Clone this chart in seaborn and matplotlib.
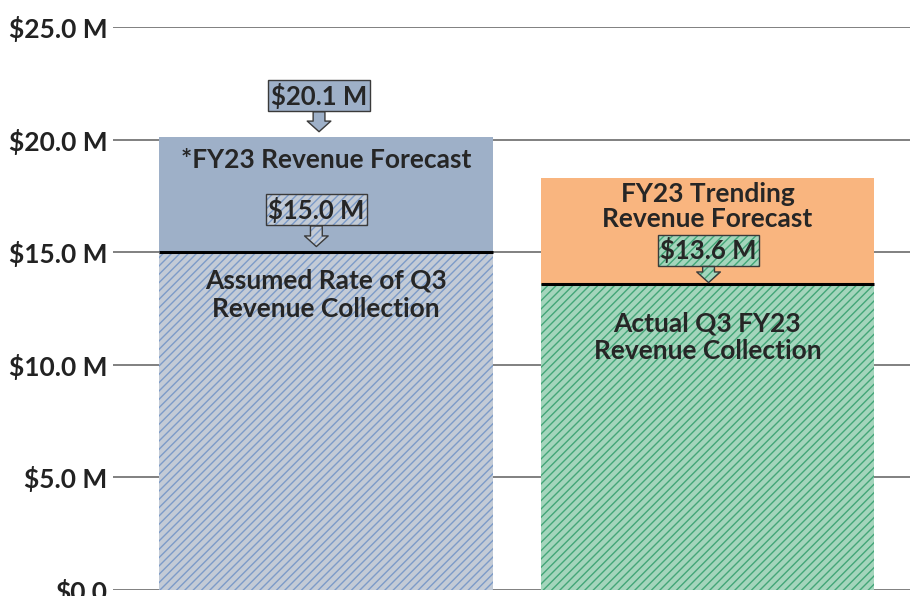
import matplotlib
matplotlib.use('Agg')
import matplotlib.pyplot as plt
import seaborn as sns
import pandas as pd

# data ($ millions)
categories = ['FY23 Forecast', 'FY23 Trending']
total_values = [20.1, 18.3]
base_values = [15.0, 13.6]
top_labels = ['*FY23 Revenue Forecast', 'FY23 Trending\nRevenue Forecast']
base_labels = ['Assumed Rate of Q3\nRevenue Collection', 'Actual Q3 FY23\nRevenue Collection']
yticks = [0, 5, 10, 15, 20, 25]
ytick_labels = ['$0.0', '$5.0 M', '$10.0 M', '$15.0 M', '$20.0 M', '$25.0 M']

top_colors = ['#9eb0c8', '#f9b57f']
base_colors = ['#c3cbd6', '#a4d5bc']
hatch_colors = ['#7c9bc8', '#43a678']

sns.set_style('white')
plt.rcParams['font.family'] = ['Lato', 'DejaVu Sans']
plt.rcParams['hatch.linewidth'] = 1.0

fig = plt.figure(figsize=(9.1, 5.96), dpi=100)
ax = fig.add_axes([0.1242, 0.0101, 0.8758, 0.9446])

df = pd.DataFrame({'cat': categories, 'total': total_values, 'base': base_values})
bar_w = 0.875

sns.barplot(data=df, x='cat', y='total', hue='cat', palette=top_colors, width=bar_w,
            saturation=1, legend=False, ax=ax, linewidth=0, zorder=2)
sns.barplot(data=df, x='cat', y='base', hue='cat', palette=base_colors, width=bar_w,
            saturation=1, legend=False, ax=ax, linewidth=0, zorder=3)

for p, hc in zip(ax.patches[2:], hatch_colors):
    p.set_hatch('////')
    p.set_edgecolor(hc)
    p.set_linewidth(0)

# black line on top of the collected part
for i, b in enumerate(base_values):
    ax.hlines(b, i - bar_w / 2, i + bar_w / 2, color='black', lw=2.2, zorder=4)

ax.set_xlim(-0.558, 1.531)
ax.set_ylim(0, 25)
ax.set_yticks(yticks)
ax.set_yticklabels(ytick_labels, fontsize=19, fontweight='bold', color='#222222')
ax.tick_params(axis='y', length=0, pad=4)
ax.set_xticks([])
ax.set_xlabel('')
ax.set_ylabel('')
ax.yaxis.grid(True, color='#808080', lw=1.4)
ax.set_axisbelow(True)
sns.despine(ax=ax, left=True, bottom=True)

txt = dict(ha='center', va='center', fontsize=19, fontweight='bold', color='#262626', zorder=6)
ax.text(0, 19.1, top_labels[0], **txt)
ax.text(1, 17.05, top_labels[1], linespacing=1.05, **txt)
ax.text(0, 13.1, base_labels[0], linespacing=1.2, **txt)
ax.text(1, 11.22, base_labels[1], linespacing=1.2, **txt)

arrow_style = 'simple,head_length=0.45,head_width=1.0,tail_width=0.5'


def callout(x, value, y_box, fc, hc=None, hatch=None, tip_off=0.2):
    label = f'${value:.1f} M'
    common = dict(xy=(x, value + tip_off), xytext=(x, y_box), ha='center', va='center',
                  fontsize=18.5, fontweight='bold')
    if hatch:
        # hatched fill first, then the dark outline and text on top
        ax.annotate(label, color='none', zorder=7,
                    bbox=dict(boxstyle='square,pad=0.1', fc=fc, ec=hc, lw=0, hatch=hatch),
                    arrowprops=dict(arrowstyle=arrow_style, fc=fc, ec=hc, lw=0, hatch=hatch,
                                    mutation_scale=17, shrinkA=0, shrinkB=0),
                    **common)
        fc = 'none'
    ax.annotate(label, color='#262626', zorder=8,
                bbox=dict(boxstyle='square,pad=0.1', fc=fc, ec='#3a3a3a', lw=1),
                arrowprops=dict(arrowstyle=arrow_style, fc=fc, ec='#3a3a3a', lw=1,
                                mutation_scale=17, shrinkA=0, shrinkB=0),
                **common)


callout(-0.018, total_values[0], 21.95, top_colors[0], tip_off=0.25)
callout(-0.025, base_values[0], 16.88, base_colors[0], hatch_colors[0], '////', tip_off=0.25)
callout(1.003, base_values[1], 15.08, base_colors[1], hatch_colors[1], '////', tip_off=0.05)

fig.savefig('out.png', dpi=100)
